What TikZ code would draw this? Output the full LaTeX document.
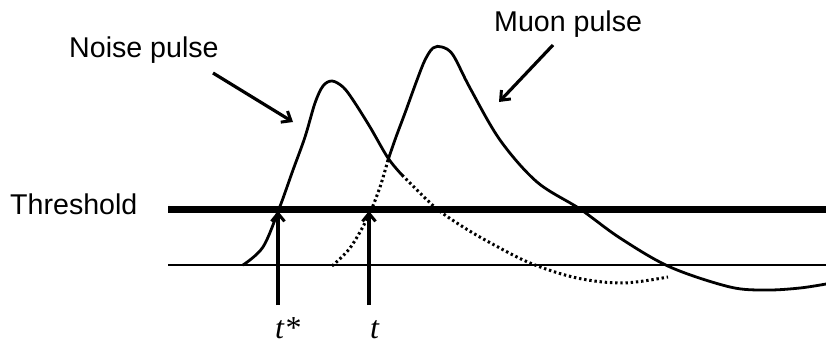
\documentclass[tikz,border=0pt]{standalone}
\usepackage{fontspec}
\setmainfont{Liberation Sans}
\newfontfamily\tserif{Liberation Serif}
\usetikzlibrary{arrows.meta}
\begin{document}
\begin{tikzpicture}[x=1pt,y=-1pt,
  lbl/.style={font=\fontsize{28.6}{32}\selectfont, inner sep=0pt, anchor=base west},
  tlbl/.style={font=\tserif\itshape\fontsize{32}{34}\selectfont, inner sep=0pt, anchor=base west},
  pulse/.style={line width=2.8pt, line join=round, line cap=round},
  dotline/.style={line width=3pt, dash pattern=on 2.4pt off 2.8pt},
  pointer/.style={line width=3.2pt, -{Straight Barb[length=8pt,width=13pt,line width=3pt]}},
  thr/.style={line width=7.5pt},
  base/.style={line width=2.4pt}]
\useasboundingbox (0,0) rectangle (826,345);
% texts
\node[lbl] (thrlbl) at (10,214) {Threshold};
\node[lbl] (noiselbl) at (69,57) {Noise pulse};
\node[lbl] (muonlbl) at (494,32) {Muon pulse};
\node[tlbl] (tstar) at (275,338) {t*};
\node[tlbl] (tt) at (370,338) {t};
% lines
\coordinate (thrL) at (168,209.5);
\coordinate (thrR) at (826,209.5);
\coordinate (baseL) at (168,265);
\coordinate (baseR) at (826,265);
\draw[thr] (thrL) -- (thrR);
\draw[base] (baseL) -- (baseR);
% noise pulse
\draw[pulse] plot[smooth, tension=0.55] coordinates {(243,265) (263,247) (279,209) (293,170) (305,137) (315,103) (323,86) (332,81) (343,87) (353,100) (370,127) (388,158) (402,175)};
\draw[dotline] plot[smooth, tension=0.55] coordinates {(402,175) (418,191) (437,209) (460,225) (487,241) (530,263) (577,278) (623,283) (668,277)};
% muon pulse
\draw[dotline] plot[smooth, tension=0.55] coordinates {(332,266) (350,248) (368,217) (380,187) (388,160)};
\draw[pulse] plot[smooth, tension=0.55] coordinates {(388,160) (396,137) (405,113) (417,80) (425,60) (433,48) (442,47) (453,55) (470,88) (500,140) (537,182) (580,209) (620,238) (670,267) (730,287) (767,290) (800,288) (826,284)};
% pointer arrows
\coordinate (noiseA) at (213,73);
\coordinate (noiseB) at (293,122);
\coordinate (muonA) at (553,45);
\coordinate (muonB) at (499,102);
\draw[pointer] (noiseA) -- (noiseB);
\draw[pointer] (muonA) -- (muonB);
\coordinate (tsA) at (278,305);
\coordinate (tsB) at (278,211);
\coordinate (tA) at (369,305);
\coordinate (tB) at (369,211);
\draw[pointer] (tsA) -- (tsB);
\draw[pointer] (tA) -- (tB);
\end{tikzpicture}
\end{document}
